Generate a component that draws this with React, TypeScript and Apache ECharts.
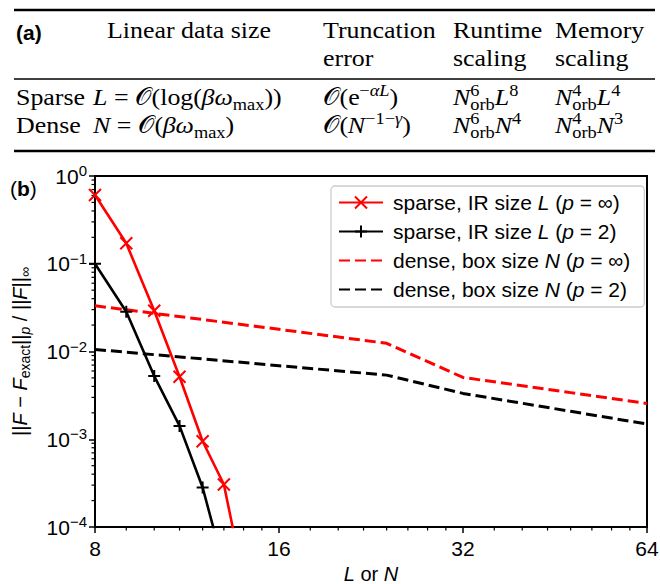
import React, { useEffect, useRef } from "react";
import * as echarts from "echarts";

// ---------------- data ----------------
const sparseInfL = [8, 9, 10, 11, 12, 13, 14];
const sparseInfErr = [0.607, 0.171, 0.0291, 0.00515, 0.00095, 0.000305, 0.000025];
const sparse2L = [8, 9, 10, 11, 12, 13];
const sparse2Err = [0.1, 0.0284, 0.00525, 0.00142, 0.000282, 0.000035];
const denseN = [8, 16, 24, 32, 48, 64];
const denseInfErr = [0.0332, 0.0179, 0.0124, 0.00506, 0.0034, 0.00256];
const dense2Err = [0.01056, 0.00689, 0.00538, 0.00333, 0.00208, 0.00149];

const xMinorTicks = [9, 10, 11, 12, 13, 14, 15, 18, 20, 22, 24, 26, 28, 30, 36, 40, 44, 48, 52, 56, 60];
const yMinorMantissas = [2, 3, 4, 5, 6, 7, 8, 9];
const yMinorDecades = [1e-4, 1e-3, 1e-2, 1e-1];

const seriesNames = [
  "sparse, IR size L (p = ∞)",
  "sparse, IR size L (p = 2)",
  "dense, box size N (p = ∞)",
  "dense, box size N (p = 2)",
];
const legendLabels = [
  "{g| }{n|sparse, IR size }{i|L}{n| (}{i|p}{n| = ∞)}",
  "{g| }{n|sparse, IR size }{i|L}{n| (}{i|p}{n| = 2)}",
  "{g| }{n|dense, box size }{i|N}{n| (}{i|p}{n| = ∞)}",
  "{g| }{n|dense, box size }{i|N}{n| (}{i|p}{n| = 2)}",
];

const SANS = '"Liberation Sans", Arial, sans-serif';
const SERIF = '"Liberation Serif", "DejaVu Serif", serif';

// ---------------- table (a) ----------------
type Tok = { t?: string; s?: string; pos?: string; stack?: Tok[] };
const CAL = "𝒪";
const headerCells: { x: number; lines: string[] }[] = [
  { x: 107, lines: ["Linear data size"] },
  { x: 323, lines: ["Truncation", "error"] },
  { x: 453, lines: ["Runtime", "scaling"] },
  { x: 555, lines: ["Memory", "scaling"] },
];
const colX = [16, 93, 323, 453, 555];
const rowSparse: Tok[][] = [
  [{ t: "Sparse" }],
  [{ t: "L", s: "i" }, { t: " = " + CAL + "(log(" }, { t: "βω", s: "i" }, { t: "max", pos: "sub" }, { t: "))" }],
  [{ t: CAL + "(e" }, { t: "−", pos: "sup" }, { t: "αL", s: "i", pos: "sup" }, { t: ")" }],
  [{ t: "N", s: "i" }, { stack: [{ t: "6", pos: "sup" }, { t: "orb", pos: "sub" }] }, { t: "L", s: "i" }, { t: "8", pos: "sup" }],
  [{ t: "N", s: "i" }, { stack: [{ t: "4", pos: "sup" }, { t: "orb", pos: "sub" }] }, { t: "L", s: "i" }, { t: "4", pos: "sup" }],
];
const rowDense: Tok[][] = [
  [{ t: "Dense" }],
  [{ t: "N", s: "i" }, { t: " = " + CAL + "(" }, { t: "βω", s: "i" }, { t: "max", pos: "sub" }, { t: ")" }],
  [{ t: CAL + "(" }, { t: "N", s: "i" }, { t: "−1−", pos: "sup" }, { t: "γ", s: "i", pos: "sup" }, { t: ")" }],
  [{ t: "N", s: "i" }, { stack: [{ t: "6", pos: "sup" }, { t: "orb", pos: "sub" }] }, { t: "N", s: "i" }, { t: "4", pos: "sup" }],
  [{ t: "N", s: "i" }, { stack: [{ t: "4", pos: "sup" }, { t: "orb", pos: "sub" }] }, { t: "N", s: "i" }, { t: "3", pos: "sup" }],
];

const BASE = 24;
const SMALL = 17;
const SX = 1.08;

function buildTable(): any[] {
  const out: any[] = [];
  const canvas = document.createElement("canvas");
  const ctx = canvas.getContext("2d")!;
  const measure = (t: string, size: number, italic: boolean) => {
    ctx.font = `${italic ? "italic " : ""}${size}px ${SERIF}`;
    return ctx.measureText(t).width;
  };
  const place = (tk: Tok, x: number, baseline: number): number => {
    const size = tk.pos ? SMALL : BASE;
    const italic = tk.s === "i";
    const bl = tk.pos === "sup" ? baseline - 9 : tk.pos === "sub" ? baseline + 5 : baseline;
    out.push({
      type: "text",
      x,
      y: bl - 0.3375 * size,
      scaleX: SX,
      silent: true,
      style: {
        text: tk.t,
        fontFamily: SERIF,
        fontSize: size,
        fontStyle: italic ? "italic" : "normal",
        fill: "#000",
        align: "left",
        verticalAlign: "middle",
      },
    });
    return measure(tk.t || "", size, italic) * SX;
  };
  const layout = (toks: Tok[], x0: number, baseline: number) => {
    let x = x0;
    for (const tk of toks) {
      if (tk.stack) {
        const w = Math.max(...tk.stack.map((s) => place(s, x, baseline)));
        x += w;
      } else {
        x += place(tk, x, baseline);
      }
    }
  };
  const rule = (y: number, h: number) =>
    out.push({ type: "rect", silent: true, shape: { x: 14, y: y - h / 2, width: 641, height: h }, style: { fill: "#000" } });
  rule(10, 2.6);
  rule(79, 1.6);
  rule(151, 2.6);
  out.push({
    type: "text",
    x: 16,
    y: 32,
    silent: true,
    style: { text: "(a)", fontFamily: SANS, fontWeight: "bold", fontSize: 21, fill: "#000", align: "left", verticalAlign: "middle" },
  });
  headerCells.forEach((c) => {
    c.lines.forEach((ln, i) => layout([{ t: ln }], c.x, 38 + i * 28));
  });
  rowSparse.forEach((cell, i) => layout(cell, colX[i], 105));
  rowDense.forEach((cell, i) => layout(cell, colX[i], 133));
  out.push({
    type: "text",
    x: 10,
    y: 188,
    silent: true,
    style: {
      text: "{n|(}{b|b}{n|)}",
      fontFamily: SANS,
      fontSize: 21,
      fill: "#000",
      align: "left",
      verticalAlign: "middle",
      rich: {
        n: { fontFamily: SANS, fontSize: 21, fill: "#000" },
        b: { fontFamily: SANS, fontSize: 21, fontWeight: "bold", fill: "#000" },
      },
    },
  });
  return out;
}

const xPath = "path://M0,0L10,10M10,0L0,10";
const plusPath = "path://M5,0L5,10M0,5L10,5";

export default function App() {
  const ref = useRef<HTMLDivElement>(null);
  useEffect(() => {
    if (!ref.current) return;
    const chart = echarts.init(ref.current, undefined, { renderer: "svg" });
    const yMinor: number[][] = [];
    yMinorDecades.forEach((d) => yMinorMantissas.forEach((m) => yMinor.push([8, m * d])));
    const FS = 21;
    const supStyle = { fontFamily: SANS, fontSize: 15, lineHeight: 14, verticalAlign: "top", color: "#000" };
    const subStyle = { fontFamily: SANS, fontSize: 14, lineHeight: 14, verticalAlign: "bottom", color: "#000" };
    const option: any = {
      animation: false,
      backgroundColor: "#ffffff",
      grid: {
        left: 95,
        right: 13,
        top: 176,
        bottom: 57,
        show: true,
        borderColor: "#000",
        borderWidth: 2,
        backgroundColor: "transparent",
        containLabel: false,
        outerBoundsMode: "none",
      },
      xAxis: {
        type: "log",
        logBase: 2,
        min: 8,
        max: 64,
        axisLine: { show: true, lineStyle: { color: "#000", width: 2 } },
        axisTick: { show: true, length: 6, inside: false, lineStyle: { color: "#000", width: 1.5 } },
        axisLabel: { color: "#000", fontFamily: SANS, fontSize: FS, margin: 11, formatter: (v: number) => String(Math.round(v)) },
        splitLine: { show: false },
        name: "{i|L}{n| or }{i|N}",
        nameLocation: "middle",
        nameGap: 32,
        nameTextStyle: {
          color: "#000",
          fontFamily: SANS,
          fontSize: 20,
          lineHeight: 20,
          rich: {
            n: { fontFamily: SANS, fontSize: 20, lineHeight: 20, color: "#000" },
            i: { fontFamily: SANS, fontSize: 20, lineHeight: 20, fontStyle: "italic", color: "#000" },
          },
        },
      },
      yAxis: {
        type: "log",
        logBase: 10,
        min: 1e-4,
        max: 1,
        axisLine: { show: true, lineStyle: { color: "#000", width: 2 } },
        axisTick: { show: true, length: 6, inside: false, lineStyle: { color: "#000", width: 1.5 } },
        axisLabel: {
          color: "#000",
          fontFamily: SANS,
          fontSize: FS,
          margin: 8,
          formatter: (v: number) => {
            const e = Math.round(Math.log10(v));
            return `{b|10}{s|${e === 0 ? "0" : "−" + -e}}`;
          },
          rich: { b: { fontFamily: SANS, fontSize: FS, lineHeight: 26, color: "#000" }, s: supStyle },
        },
        splitLine: { show: false },
        name: "{n|||}{i|F}{n| − }{i|F}{sub|exact}{n|||}{subi|p}{n| / ||}{i|F}{n|||}{sub|∞}",
        nameLocation: "middle",
        nameRotate: 90,
        nameGap: 63,
        nameTextStyle: {
          color: "#000",
          fontFamily: SANS,
          fontSize: 20,
          rich: {
            n: { fontFamily: SANS, fontSize: 20, lineHeight: 25, color: "#000" },
            i: { fontFamily: SANS, fontSize: 20, lineHeight: 25, fontStyle: "italic", color: "#000" },
            sub: subStyle,
            subi: { ...subStyle, fontStyle: "italic" },
          },
        },
      },
      legend: {
        orient: "vertical",
        left: 331,
        top: 186,
        itemWidth: 44,
        itemHeight: 15,
        itemGap: 8,
        padding: [6, 14, 7, 7],
        borderColor: "#cccccc",
        borderWidth: 1.3,
        borderRadius: 4,
        backgroundColor: "rgba(255,255,255,0.8)",
        data: [
          { name: seriesNames[0] },
          { name: seriesNames[1] },
          { name: seriesNames[2], itemStyle: { opacity: 0 } },
          { name: seriesNames[3], itemStyle: { opacity: 0 } },
        ],
        formatter: (name: string) => legendLabels[seriesNames.indexOf(name)],
        textStyle: {
          color: "#000",
          fontFamily: SANS,
          fontSize: FS,
          rich: {
            g: { width: 5, lineHeight: 22 },
            n: { fontFamily: SANS, fontSize: FS, lineHeight: 22, color: "#000" },
            i: { fontFamily: SANS, fontSize: FS, lineHeight: 22, fontStyle: "italic", color: "#000" },
          },
        },
      },
      series: [
        {
          name: seriesNames[0],
          type: "line",
          data: sparseInfL.map((x, i) => [x, sparseInfErr[i]]),
          symbol: xPath,
          symbolSize: 12,
          showSymbol: true,
          clip: true,
          lineStyle: { color: "#ff0000", width: 2.6 },
          itemStyle: { color: "#ff0000", borderColor: "#ff0000", borderWidth: 2 },
          z: 4,
        },
        {
          name: seriesNames[1],
          type: "line",
          data: sparse2L.map((x, i) => [x, sparse2Err[i]]),
          symbol: plusPath,
          symbolSize: 12,
          showSymbol: true,
          clip: true,
          lineStyle: { color: "#000000", width: 2.6 },
          itemStyle: { color: "#000000", borderColor: "#000000", borderWidth: 2 },
          z: 3,
        },
        {
          name: seriesNames[2],
          type: "line",
          data: denseN.map((x, i) => [x, denseInfErr[i]]),
          symbol: "none",
          clip: true,
          lineStyle: { color: "#ff0000", width: 3, type: [11, 5] },
          itemStyle: { color: "#ff0000" },
          z: 2,
        },
        {
          name: seriesNames[3],
          type: "line",
          data: denseN.map((x, i) => [x, dense2Err[i]]),
          symbol: "none",
          clip: true,
          lineStyle: { color: "#000000", width: 3, type: [11, 5] },
          itemStyle: { color: "#000000" },
          z: 2,
        },
        {
          name: "xminor",
          type: "custom",
          silent: true,
          clip: false,
          data: xMinorTicks.map((v) => [v, 1e-4]),
          encode: { x: 0, y: 1 },
          renderItem: (_p: any, api: any) => {
            const p = api.coord([api.value(0), api.value(1)]);
            return { type: "line", shape: { x1: p[0], y1: p[1], x2: p[0], y2: p[1] + 3.5 }, style: { stroke: "#000", lineWidth: 1.2 } };
          },
        },
        {
          name: "yminor",
          type: "custom",
          silent: true,
          clip: false,
          data: yMinor,
          encode: { x: 0, y: 1 },
          renderItem: (_p: any, api: any) => {
            const p = api.coord([api.value(0), api.value(1)]);
            return { type: "line", shape: { x1: p[0] - 3.5, y1: p[1], x2: p[0], y2: p[1] }, style: { stroke: "#000", lineWidth: 1.2 } };
          },
        },
      ],
      graphic: { elements: buildTable() },
    };
    chart.setOption(option);
    return () => chart.dispose();
  }, []);
  return <div ref={ref} style={{ position: "absolute", left: 0, top: 0, width: 660, height: 584 }} />;
}
